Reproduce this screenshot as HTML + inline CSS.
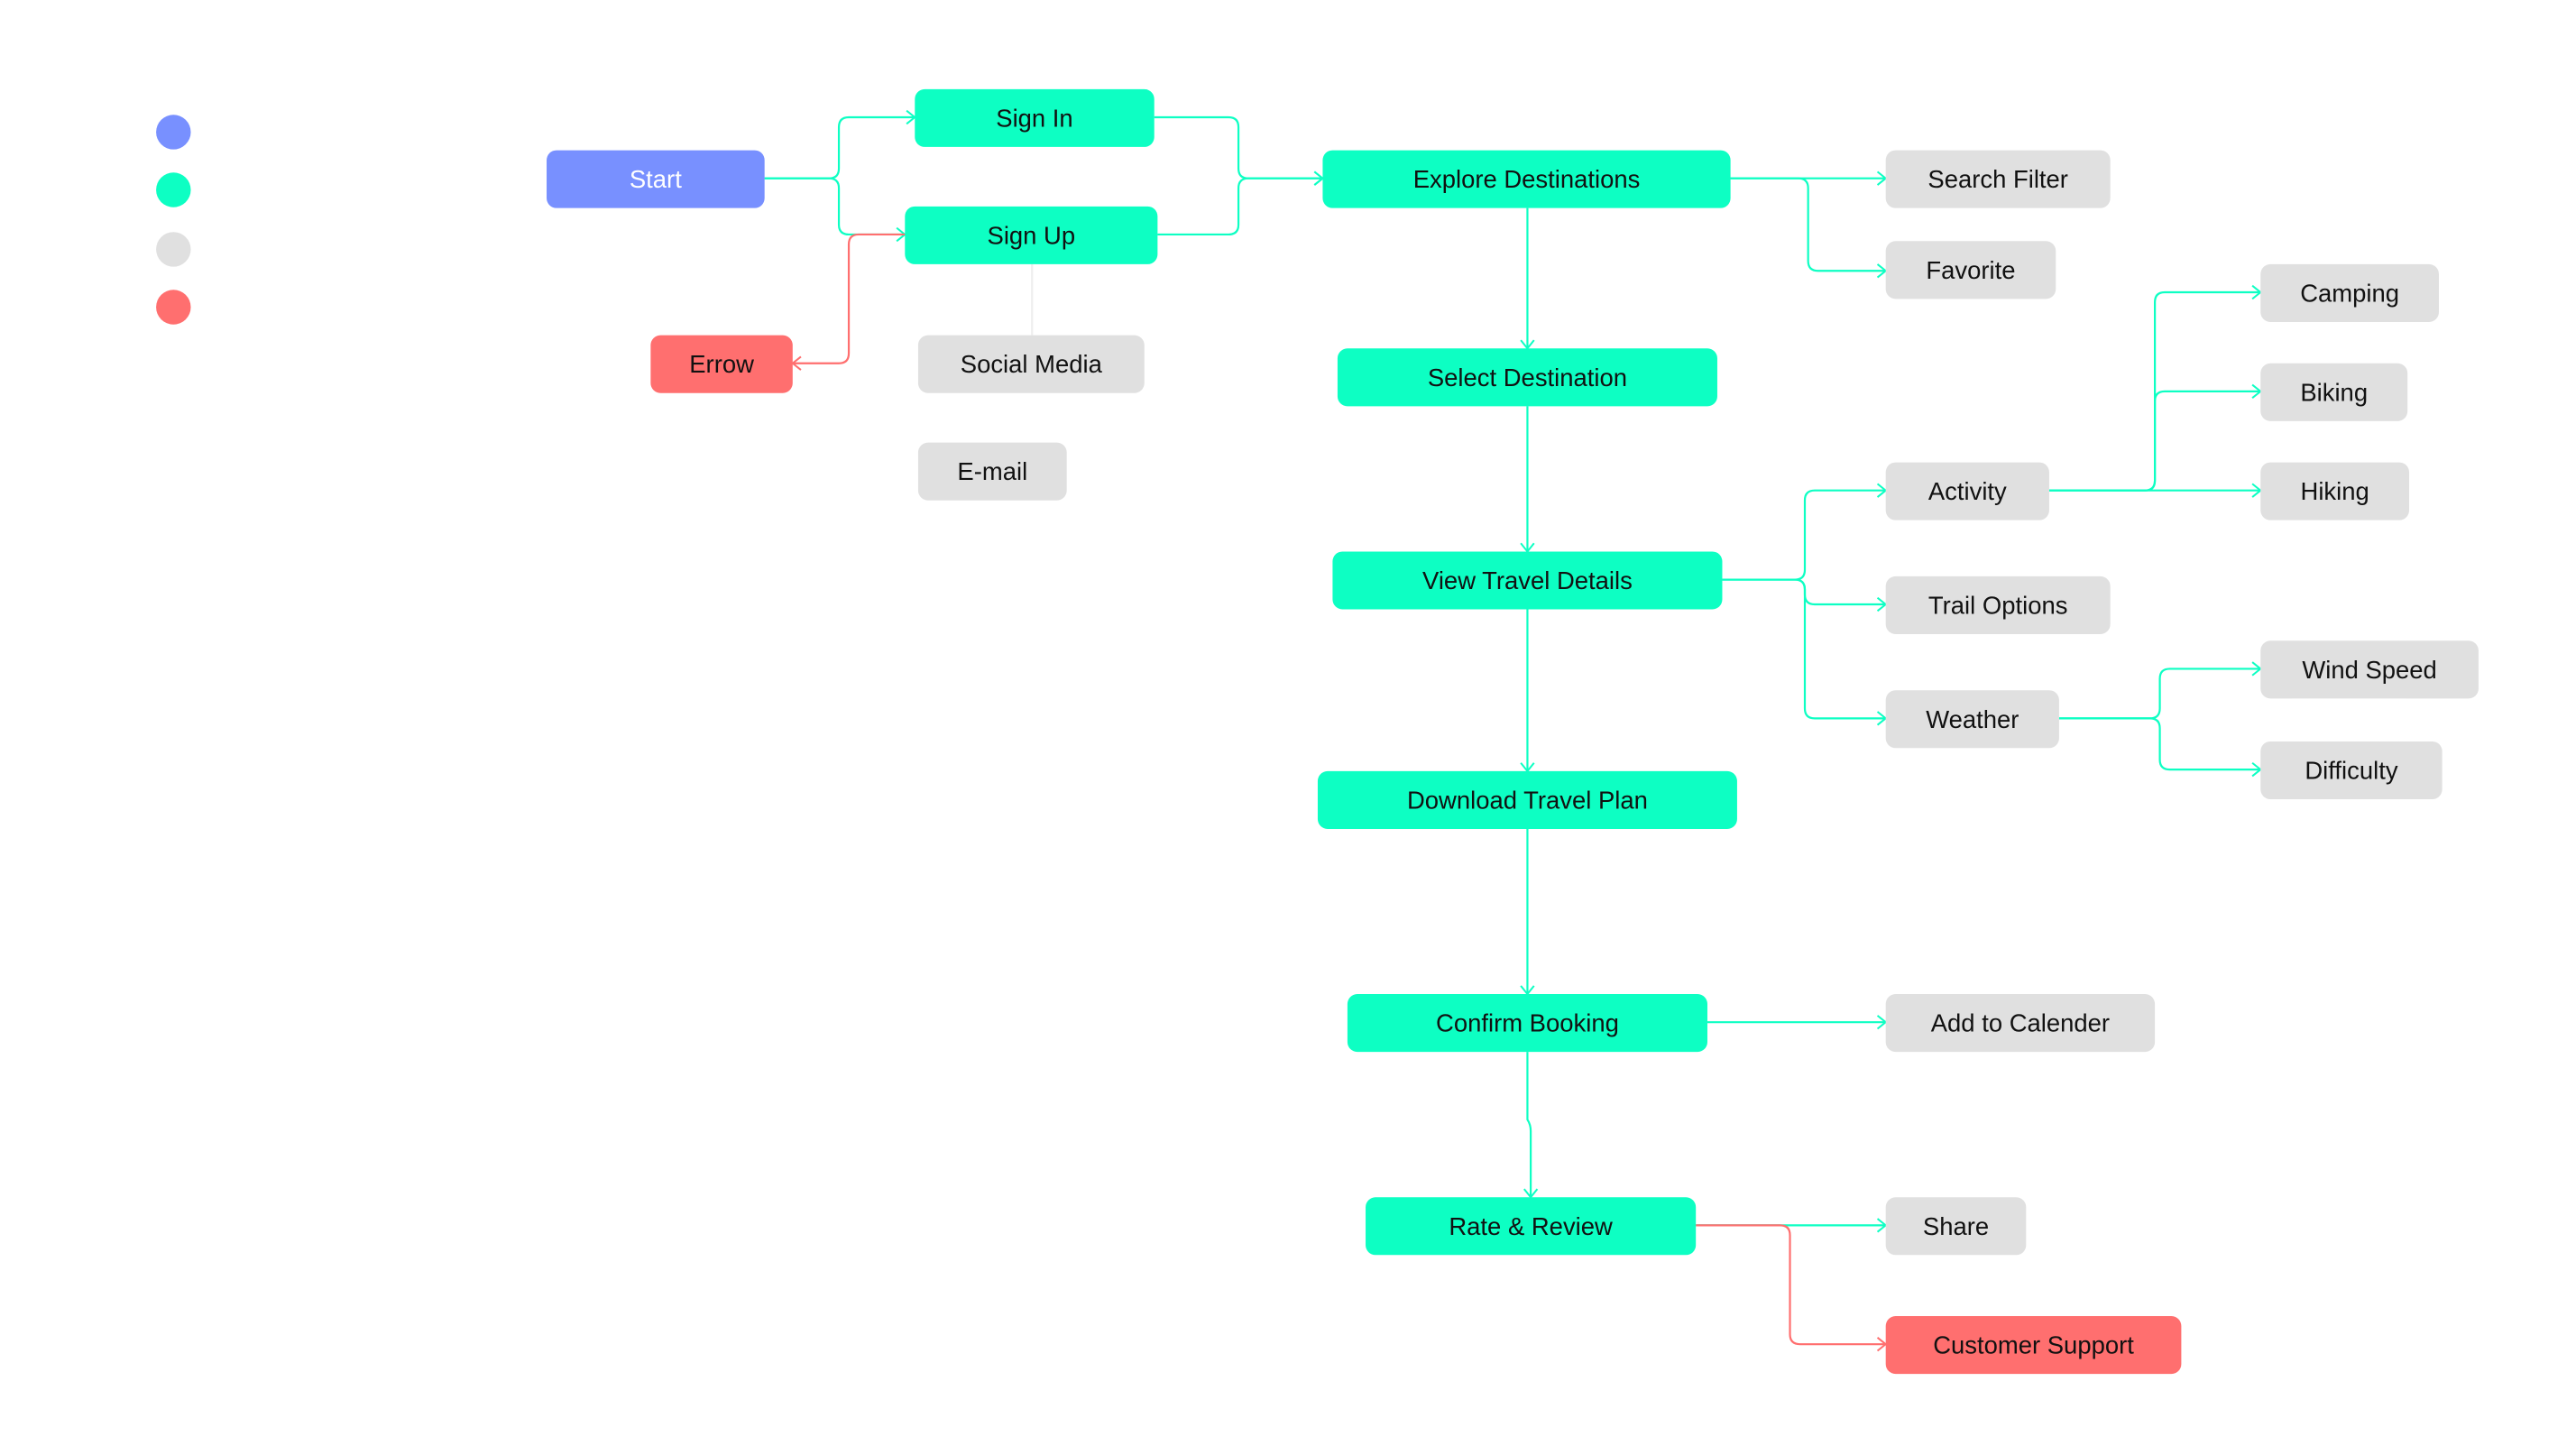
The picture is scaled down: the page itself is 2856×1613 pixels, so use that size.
<!DOCTYPE html>
<html><head><meta charset="utf-8"><style>
html,body{margin:0;padding:0;background:#fff;}
svg{display:block;}
text{font-family:"Liberation Sans",Arial,sans-serif;font-size:15px;fill:#111;text-anchor:middle;dominant-baseline:central;}
</style></head><body>
<svg width="2856" height="1613" viewBox="0 0 1560 881.1" xmlns="http://www.w3.org/2000/svg">
<defs>
<marker id="ac" markerWidth="10" markerHeight="10" refX="8" refY="5" orient="auto" markerUnits="userSpaceOnUse"><path d="M3 1 L8 5 L3 9" fill="none" stroke="#0dffc3" stroke-width="1.1"/></marker>
<marker id="ar" markerWidth="10" markerHeight="10" refX="8" refY="5" orient="auto" markerUnits="userSpaceOnUse"><path d="M3 1 L8 5 L3 9" fill="none" stroke="#ff6f6f" stroke-width="1.1"/></marker>
</defs>
<!-- legend -->
<circle cx="105" cy="80" r="10.5" fill="#7890ff"/>
<circle cx="105" cy="115" r="10.5" fill="#0dffc3"/>
<circle cx="105" cy="151" r="10.5" fill="#e0e0e0"/>
<circle cx="105" cy="186" r="10.5" fill="#ff6f6f"/>
<text x="132" y="80" style="text-anchor:start;fill:#fff">Start</text>
<text x="132" y="115" style="text-anchor:start;fill:#fff">Main flow</text>
<text x="132" y="151" style="text-anchor:start;fill:#fff">Additional flow</text>
<text x="132" y="186" style="text-anchor:start;fill:#fff">Emergency flow</text>

<!-- connectors -->
<g fill="none" stroke="#0dffc3" stroke-width="1.2" marker-end="url(#ac)">
<path d="M463 108 H502 Q508 108 508 102 V77 Q508 71 514 71 H554"/>
<path d="M463 108 H502 Q508 108 508 114 V136 Q508 142 514 142 H548"/>
<path d="M699 71 H744 Q750 71 750 77 V102 Q750 108 756 108 H801"/>
<path d="M701 142 H744 Q750 142 750 136 V114 Q750 108 756 108 H801"/>
<path d="M1048 108 H1142"/>
<path d="M1048 108 H1089 Q1095 108 1095 114 V158 Q1095 164 1101 164 H1142"/>
<path d="M925 126 V211"/>
<path d="M925 246 V334"/>
<path d="M925 369 V467"/>
<path d="M925 502 V602"/>
<path d="M925 637 V678 Q927 681 927 685 V725"/>
<path d="M1043 351 H1087 Q1093 351 1093 345 V303 Q1093 297 1099 297 H1142"/>
<path d="M1043 351 H1087 Q1093 351 1093 357 V360 Q1093 366 1099 366 H1142"/>
<path d="M1043 351 H1087 Q1093 351 1093 357 V429 Q1093 435 1099 435 H1142"/>
<path d="M1241 297 H1369"/>
<path d="M1241 297 H1299 Q1305 297 1305 291 V243 Q1305 237 1311 237 H1369"/>
<path d="M1241 297 H1299 Q1305 297 1305 291 V183 Q1305 177 1311 177 H1369"/>
<path d="M1247 435 H1302 Q1308 435 1308 429 V411 Q1308 405 1314 405 H1369"/>
<path d="M1247 435 H1302 Q1308 435 1308 441 V460 Q1308 466 1314 466 H1369"/>
<path d="M1034 619 H1142"/>
<path d="M1027 742 H1142"/>
</g>
<path d="M625 160 V203" stroke="#eeeeee" stroke-width="1.2" fill="none"/>
<g fill="none" stroke="#ff6f6f" stroke-width="1.2" marker-end="url(#ar)">
<path d="M548 142 H520 Q514 142 514 148 V214 Q514 220 508 220 H480"/>
<path d="M1027 742 H1078 Q1084 742 1084 748 V808 Q1084 814 1090 814 H1142"/>
</g>

<!-- nodes -->
<g>
<rect x="331" y="91" width="132" height="35" rx="6" fill="#7890ff"/><text x="397" y="108.5" style="fill:#fff">Start</text>
<rect x="554" y="54" width="145" height="35" rx="6" fill="#0dffc3"/><text x="626.5" y="71.5">Sign In</text>
<rect x="548" y="125" width="153" height="35" rx="6" fill="#0dffc3"/><text x="624.5" y="142.5">Sign Up</text>
<rect x="394" y="203" width="86" height="35" rx="6" fill="#ff6f6f"/><text x="437" y="220.5">Errow</text>
<rect x="556" y="203" width="137" height="35" rx="6" fill="#e0e0e0"/><text x="624.5" y="220.5">Social Media</text>
<rect x="556" y="268" width="90" height="35" rx="6" fill="#e0e0e0"/><text x="601" y="285.5">E-mail</text>
<rect x="801" y="91" width="247" height="35" rx="6" fill="#0dffc3"/><text x="924.5" y="108.5">Explore Destinations</text>
<rect x="1142" y="91" width="136" height="35" rx="6" fill="#e0e0e0"/><text x="1210" y="108.5">Search Filter</text>
<rect x="1142" y="146" width="103" height="35" rx="6" fill="#e0e0e0"/><text x="1193.5" y="163.5">Favorite</text>
<rect x="810" y="211" width="230" height="35" rx="6" fill="#0dffc3"/><text x="925" y="228.5">Select Destination</text>
<rect x="1369" y="160" width="108" height="35" rx="6" fill="#e0e0e0"/><text x="1423" y="177.5">Camping</text>
<rect x="1369" y="220" width="89" height="35" rx="6" fill="#e0e0e0"/><text x="1413.5" y="237.5">Biking</text>
<rect x="1142" y="280" width="99" height="35" rx="6" fill="#e0e0e0"/><text x="1191.5" y="297.5">Activity</text>
<rect x="1369" y="280" width="90" height="35" rx="6" fill="#e0e0e0"/><text x="1414" y="297.5">Hiking</text>
<rect x="807" y="334" width="236" height="35" rx="6" fill="#0dffc3"/><text x="925" y="351.5">View Travel Details</text>
<rect x="1142" y="349" width="136" height="35" rx="6" fill="#e0e0e0"/><text x="1210" y="366.5">Trail Options</text>
<rect x="1369" y="388" width="132" height="35" rx="6" fill="#e0e0e0"/><text x="1435" y="405.5">Wind Speed</text>
<rect x="1142" y="418" width="105" height="35" rx="6" fill="#e0e0e0"/><text x="1194.5" y="435.5">Weather</text>
<rect x="1369" y="449" width="110" height="35" rx="6" fill="#e0e0e0"/><text x="1424" y="466.5">Difficulty</text>
<rect x="798" y="467" width="254" height="35" rx="6" fill="#0dffc3"/><text x="925" y="484.5">Download Travel Plan</text>
<rect x="816" y="602" width="218" height="35" rx="6" fill="#0dffc3"/><text x="925" y="619.5">Confirm Booking</text>
<rect x="1142" y="602" width="163" height="35" rx="6" fill="#e0e0e0"/><text x="1223.5" y="619.5">Add to Calender</text>
<rect x="827" y="725" width="200" height="35" rx="6" fill="#0dffc3"/><text x="927" y="742.5">Rate &amp; Review</text>
<rect x="1142" y="725" width="85" height="35" rx="6" fill="#e0e0e0"/><text x="1184.5" y="742.5">Share</text>
<rect x="1142" y="797" width="179" height="35" rx="6" fill="#ff6f6f"/><text x="1231.5" y="814.5">Customer Support</text>
</g>
</svg>
</body></html>
